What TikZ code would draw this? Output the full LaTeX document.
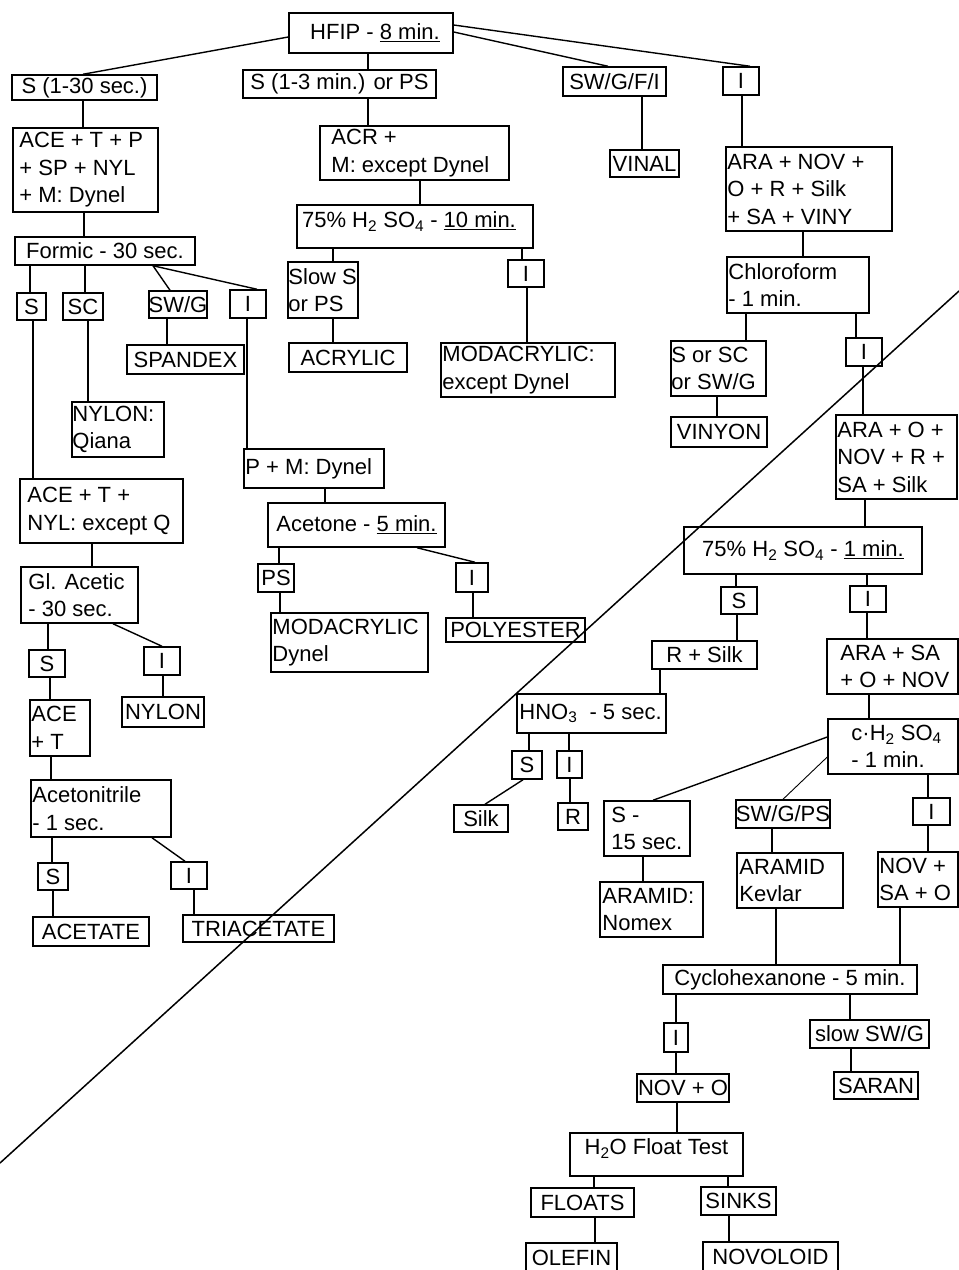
\documentclass[tikz,border=0pt]{standalone}
\usepackage{fontspec}
\setmainfont{Liberation Sans}
\tikzset{
 box/.style={draw, line width=1.5pt, inner sep=0pt, rectangle},
 txt/.style={inner sep=0pt, align=left, font=\fontsize{22}{27.5}\selectfont},
 cn/.style={line width=1.4pt},
 thinc/.style={line width=0.9pt},
}
% centred text box: [text opts]{name}{(cx,cy)}{w}{h}{text}
\newcommand\bxc[6][]{\node[box,minimum width=#4,minimum height=#5] (#2) at #3 {};
 \node[txt,#1] (#2-t) at (#2.center) {#6};}
% left aligned text box: [pad]{name}{(cx,cy)}{w}{h}{text}
\newcommand\bxl[6][2]{\node[box,minimum width=#4,minimum height=#5] (#2) at #3 {};
 \node[txt,anchor=west,xshift=#1] (#2-t) at (#2.west) {#6};}
\newcommand\vc[3]{\draw[cn] (#1.south -| #3,0) -- (#2.north -| #3,0);}
\newcommand\dc[4]{\draw[cn] (#1.south -| #2,0) -- (#3.north -| #4,0);}
\begin{document}
\begin{tikzpicture}[x=1pt,y=-1pt]
\useasboundingbox (0,0) rectangle (959,1270);
\fill[white] (0,0) rectangle (959,1270);

\bxc[xshift=4]{hfip}{(371,33)}{164}{40}{HFIP - \underline{8 min.}}
\bxc{s130}{(84.5,87.5)}{145}{25}{S (1-30 sec.)}
\bxc{s13}{(339.5,84)}{193}{28}{S (1-3 min.) or PS}
\bxc{swgfi}{(614.5,81.5)}{103}{29}{SW/G/F/I}
\bxc{ia}{(741,81)}{36}{28}{I}
\bxl[7]{acetp}{(85.5,170)}{145}{84}{ACE + T + P\\+ SP + NYL\\+ M: Dynel}
\bxl[12]{acr}{(414.5,153)}{189}{54}{ACR +\\M: except Dynel}
\bxc{vinal}{(644.5,163.5)}{69}{27}{VINAL}
\bxl{aranov}{(809,189)}{166}{84}{ARA + NOV +\\O + R + Silk\\+ SA + VINY}
\bxc{formic}{(105,251)}{180}{28}{Formic - 30 sec.}
\bxc[xshift=-6,yshift=5]{hsa}{(415,226.5)}{236}{43}{75\% H\textsubscript{2} SO\textsubscript{4} - \underline{10 min.}}
\bxl{chlor}{(798,285)}{142}{56}{Chloroform\\- 1 min.}
\bxc{sf}{(31.5,306.5)}{29}{27}{S}
\bxc{scf}{(83,306.5)}{40}{27}{SC}
\bxc{swgf}{(178,304.5)}{58}{27}{SW/G}
\bxc{ifo}{(248,304)}{36}{28}{I}
\bxl[1]{slows}{(323,290)}{70}{56}{Slow S\\or PS}
\bxc{iha}{(526,273.5)}{36}{27}{I}
\bxc{spandex}{(185.5,359.5)}{117}{29}{SPANDEX}
\bxc{acrylic}{(348,357.5)}{118}{29}{ACRYLIC}
\bxl{modexc}{(528,370)}{174}{54}{MODACRYLIC:\\except Dynel}
\bxl[1]{sorsc}{(718.5,368.5)}{95}{55}{S or SC\\or SW/G}
\bxc{ic}{(864,352)}{36}{28}{I}
\bxl[1]{nylonq}{(118,429.5)}{92}{55}{NYLON:\\Qiana}
\bxc{vinyon}{(719,432)}{96}{30}{VINYON}
\bxl{aracomp}{(896.5,457)}{121}{84}{ARA + O +\\NOV + R +\\SA + Silk}
\bxl{pm}{(314,468.5)}{140}{39}{P + M: Dynel}
\bxl[8]{acet}{(101.5,511)}{163}{64}{ACE + T +\\NYL: except Q}
\bxc{acetone}{(356.5,525)}{177}{44}{Acetone - \underline{5 min.}}
\bxc{hsb}{(803,550.5)}{238}{47}{75\% H\textsubscript{2} SO\textsubscript{4} - \underline{1 min.}}
\bxl[8]{glac}{(79.5,595)}{117}{56}{Gl. Acetic\\- 30 sec.}
\bxc{psa}{(276,578)}{36}{28}{PS}
\bxc{iac}{(472,577.5)}{32}{29}{I}
\bxc{shb}{(739,600.5)}{36}{27}{S}
\bxc{ihb}{(868,599)}{36}{26}{I}
\bxl{modd}{(349.5,642.5)}{157}{59}{MODACRYLIC\\Dynel}
\bxc{polyester}{(515.5,630)}{139}{24}{POLYESTER}
\bxc{rsilk}{(704.5,655)}{105}{28}{R + Silk}
\bxl[14]{arasa}{(892.5,666.5)}{131}{55}{ARA + SA\\+ O + NOV}
\bxc{sga}{(47,663.5)}{36}{27}{S}
\bxc{iga}{(162,661)}{36}{28}{I}
\bxl[3]{hno}{(591.5,713.5)}{149}{39}{HNO\textsubscript{3}\hspace{6pt} - 5 sec.}
\bxc{nylon}{(163,712)}{82}{30}{NYLON}
\bxl{acet2}{(60,728)}{60}{56}{ACE\\+ T}
\bxl[24]{chs}{(893,746.5)}{130}{55}{c·H\textsubscript{2} SO\textsubscript{4}\\- 1 min.}
\bxc{shc}{(527,765)}{30}{28}{S}
\bxc{ihc}{(569.5,764.5)}{25}{27}{I}
\bxl{acn}{(101,808.5)}{140}{57}{Acetonitrile\\- 1 sec.}
\bxc{silk}{(481,818.5)}{54}{27}{Silk}
\bxc{rh}{(573,816.5)}{30}{27}{R}
\bxl[8]{sfif}{(647,828.5)}{86}{55}{S -\\15 sec.}
\bxc{swgps}{(783,814)}{94}{28}{SW/G/PS}
\bxc{icb}{(931.5,811.5)}{37}{27}{I}
\bxc{sn}{(53,876.5)}{30}{27}{S}
\bxc{inn}{(189,875.5)}{36}{27}{I}
\bxl[3]{aramidk}{(790,880.5)}{106}{55}{ARAMID\\Kevlar}
\bxl{novsao}{(918,879.5)}{80}{55}{NOV +\\SA + O}
\bxl[3]{aramidn}{(651.5,909.5)}{103}{55}{ARAMID:\\Nomex}
\bxc{acetate}{(91,931.5)}{116}{29}{ACETATE}
\bxc{triacetate}{(258.5,928.5)}{151}{27}{TRIACETATE}
\bxc{cyclo}{(790,979.5)}{254}{29}{Cyclohexanone - 5 min.}
\bxc{icy}{(676,1037.5)}{24}{29}{I}
\bxc{sloww}{(869.5,1034)}{119}{28}{slow SW/G}
\bxc{novo}{(683,1088)}{92}{28}{NOV + O}
\bxc{saran}{(876,1085.5)}{84}{27}{SARAN}
\bxc[yshift=6]{htwo}{(656.5,1154.5)}{173}{43}{H\textsubscript{2}O Float Test}
\bxc{floats}{(582.5,1202.5)}{103}{29}{FLOATS}
\bxc{sinks}{(738.5,1201)}{75}{28}{SINKS}
\bxc{olefin}{(571.5,1257.5)}{91}{29}{OLEFIN}
\bxc{novoloid}{(770.5,1257)}{135}{30}{NOVOLOID}

% connectors
\draw[cn] (hfip.west |- 0,37) -- (s130.north -| 83,0);
\vc{hfip}{s13}{368}
\draw[cn] (hfip.east |- 0,25) -- (ia.north -| 750,0);
\draw[cn] (hfip.east |- 0,32) -- (swgfi.north -| 608,0);
\vc{s130}{acetp}{83}
\vc{acetp}{formic}{84}
\vc{s13}{acr}{368}
\vc{acr}{hsa}{420}
\vc{swgfi}{vinal}{642}
\vc{ia}{aranov}{742}
\vc{aranov}{chlor}{803}
\vc{formic}{sf}{30}
\vc{formic}{scf}{85}
\dc{formic}{153}{swgf}{170}
\dc{formic}{153}{ifo}{257}
\vc{hsa}{slows}{333}
\vc{hsa}{iha}{522}
\vc{chlor}{sorsc}{746}
\vc{chlor}{ic}{856}
\vc{sf}{acet}{33}
\vc{scf}{nylonq}{88}
\vc{swgf}{spandex}{167}
\vc{ifo}{pm}{247}
\vc{slows}{acrylic}{333}
\vc{iha}{modexc}{527}
\vc{sorsc}{vinyon}{717}
\vc{ic}{aracomp}{863}
\vc{pm}{acetone}{325}
\vc{acet}{glac}{92}
\vc{aracomp}{hsb}{865}
\vc{acetone}{psa}{279}
\dc{acetone}{417}{iac}{475}
\vc{hsb}{shb}{736}
\vc{hsb}{ihb}{867}
\vc{glac}{sga}{48}
\dc{glac}{113}{iga}{162}
\vc{psa}{modd}{280}
\vc{iac}{polyester}{473}
\vc{shb}{rsilk}{737}
\vc{ihb}{arasa}{867}
\vc{sga}{acet2}{50}
\vc{iga}{nylon}{163}
\vc{rsilk}{hno}{660}
\vc{arasa}{chs}{869}
\vc{acet2}{acn}{51}
\vc{hno}{shc}{529}
\vc{hno}{ihc}{569}
\dc{shc}{523}{silk}{485}
\vc{ihc}{rh}{570}
\draw[cn] (chs.west |- 0,737) -- (sfif.north -| 653,0);
\draw[thinc] (chs.west |- 0,757) -- (swgps.north -| 783,0);
\vc{chs}{icb}{928}
\vc{acn}{sn}{52}
\dc{acn}{152}{inn}{185}
\vc{sfif}{aramidn}{643}
\vc{swgps}{aramidk}{772}
\vc{icb}{novsao}{928}
\vc{sn}{acetate}{53}
\vc{inn}{triacetate}{194}
\vc{aramidk}{cyclo}{776}
\vc{novsao}{cyclo}{900}
\vc{cyclo}{icy}{676}
\vc{cyclo}{sloww}{850}
\vc{icy}{novo}{676}
\vc{sloww}{saran}{851}
\vc{novo}{htwo}{677}
\vc{htwo}{floats}{594}
\vc{htwo}{sinks}{728}
\vc{floats}{olefin}{595}
\vc{sinks}{novoloid}{729}

% diagonal stroke
\coordinate (dA) at (0,1163);
\coordinate (dB) at (959,291);
\draw[line width=1.5pt] (dA) -- (dB);
\end{tikzpicture}
\end{document}
